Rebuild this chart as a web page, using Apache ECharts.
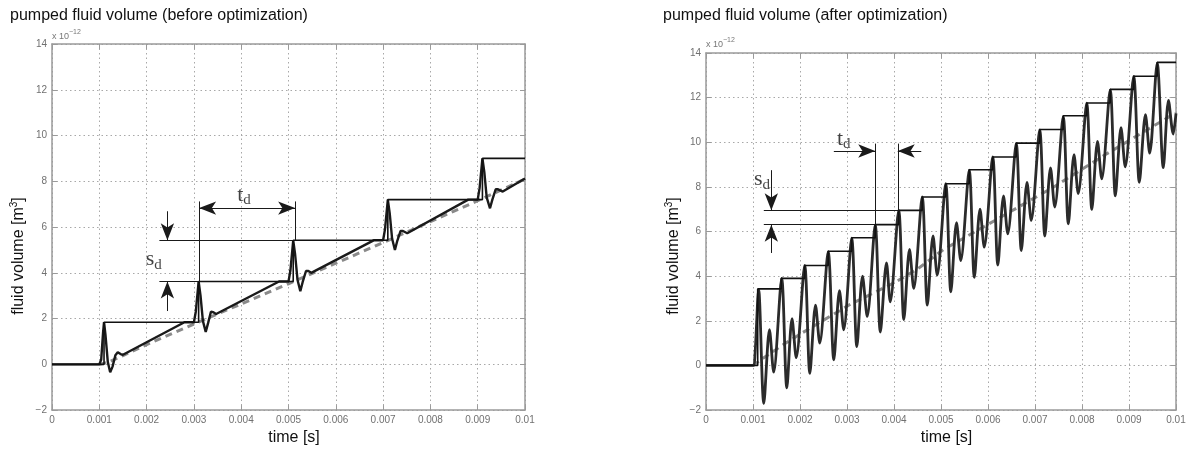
<!DOCTYPE html>
<html><head><meta charset="utf-8">
<script src="https://cdn.jsdelivr.net/npm/echarts@6/dist/echarts.min.js"></script>
<style>html,body{margin:0;padding:0;background:#fff}#c{width:1197px;height:451px}</style>
</head><body><div id="c"></div>
<script>
// ---------- tick labels ----------
const xTickLabels = ['0','0.001','0.002','0.003','0.004','0.005','0.006','0.007','0.008','0.009','0.01'];
const yTickLabels = ['\u22122','0','2','4','6','8','10','12','14'];
const panelTitles = ['pumped fluid volume (before optimization)', 'pumped fluid volume (after optimization)'];

// ---------- BEFORE optimization ----------
const beforeStairs = [[0,0],[0.0011,0],[0.0011,1.84],[0.0031,1.84],[0.0031,3.62],[0.0051,3.62],[0.0051,5.42],
  [0.0071,5.42],[0.0071,7.2],[0.0091,7.2],[0.0091,9.0],[0.01,9.0]];
const beforeResponse = [[0,0],[0.001,0],[0.00104,0.2],[0.00108,1.4],[0.0011,1.84],[0.00113,1.3],[0.00118,0.1],
  [0.00123,-0.35],[0.00128,-0.1],[0.00134,0.4],[0.00139,0.53],[0.00145,0.45],[0.0015,0.42],[0.0028,1.84],[0.003,1.84],
  [0.00304,2.3],[0.0031,3.62],[0.00314,3.0],[0.00319,1.9],[0.00325,1.42],[0.0033,1.8],[0.00336,2.3],[0.00341,2.28],[0.00347,2.2],[0.0048,3.62],[0.005,3.62],
  [0.00504,4.1],[0.0051,5.42],[0.00514,4.8],[0.00519,3.7],[0.00525,3.2],[0.0053,3.6],[0.00537,4.08],[0.00542,4.08],[0.00548,4.0],[0.0068,5.42],[0.007,5.42],
  [0.00704,5.9],[0.0071,7.2],[0.00714,6.6],[0.00719,5.5],[0.00725,5.0],[0.0073,5.4],[0.00737,5.83],[0.00742,5.83],[0.00751,5.73],[0.0088,7.2],[0.009,7.2],
  [0.00904,7.7],[0.0091,9.0],[0.00914,8.4],[0.00919,7.3],[0.00926,6.82],[0.00931,7.2],[0.00938,7.65],[0.00943,7.65],[0.00953,7.55],[0.01,8.12]];
const beforeMean = [[0.001,0],[0.0012,0.1],[0.0015,0.38],[0.002,0.86],[0.003,1.76],[0.004,2.64],[0.005,3.52],
  [0.006,4.42],[0.007,5.32],[0.008,6.24],[0.009,7.15],[0.01,8.1]];
// annotation geometry (data coordinates)
const beforeGuides = [[[0.00311,7.12],[0.00311,3.62]],[[0.00514,7.12],[0.00514,5.42]],
  [[0.00227,5.42],[0.0051,5.42]],[[0.00227,3.62],[0.0031,3.62]]];
const beforeArrows = [[[0.00311,6.83],[0.00514,6.83],true],[[0.00244,6.69],[0.00244,5.42],false],[[0.00244,2.33],[0.00244,3.62],false]];
const beforeLabels = [[0.00406,7.4,'t'],[0.00215,4.6,'s']];

// ---------- AFTER optimization ----------
const afterStairs = [[0,0],[0.0011,0],[0.0011,3.43],[0.0016,3.43],[0.0016,3.9],[0.0021,3.9],[0.0021,4.48],[0.0026,4.48],
  [0.0026,5.12],[0.0031,5.12],[0.0031,5.72],[0.0036,5.72],[0.0036,6.31],[0.0041,6.31],[0.0041,6.95],[0.0046,6.95],
  [0.0046,7.55],[0.0051,7.55],[0.0051,8.14],[0.0056,8.14],[0.0056,8.77],[0.0061,8.77],[0.0061,9.34],[0.0066,9.34],
  [0.0066,9.96],[0.0071,9.96],[0.0071,10.57],[0.0076,10.57],[0.0076,11.19],[0.0081,11.19],[0.0081,11.76],[0.0086,11.76],
  [0.0086,12.37],[0.0091,12.37],[0.0091,12.96],[0.0096,12.96],[0.0096,13.58],[0.01,13.58]];
const afterResponse = [[0,0],[0.001,0],[0.00104,0.4],[0.00112,3.4],[0.00123,-1.7],[0.00135,1.6],[0.00144,-0.3],
  [0.00161,3.9],[0.00172,-1.0],[0.00183,2.1],[0.00192,0.35],[0.0021,4.48],[0.00221,-0.35],[0.00233,2.7],[0.00242,1.0],
  [0.0026,5.1],[0.00272,0.25],[0.00284,3.35],[0.00293,1.6],[0.0031,5.7],[0.00321,0.85],[0.00333,4.0],[0.00343,2.2],
  [0.0036,6.3],[0.00371,1.5],[0.00384,4.6],[0.00392,2.85],[0.0041,6.95],[0.00421,2.06],[0.00433,5.2],[0.00442,3.45],
  [0.0046,7.55],[0.00471,2.7],[0.00483,5.8],[0.00492,4.05],[0.0051,8.15],[0.00521,3.3],[0.00533,6.4],[0.00542,4.7],
  [0.0056,8.75],[0.00571,3.95],[0.00583,7.0],[0.00592,5.3],[0.0061,9.35],[0.00621,4.5],[0.00633,7.6],[0.00642,5.9],
  [0.0066,9.95],[0.00671,5.15],[0.00683,8.2],[0.00692,6.5],[0.0071,10.55],[0.00721,5.8],[0.00733,8.85],[0.00742,7.1],
  [0.0076,11.15],[0.00771,6.35],[0.00783,9.45],[0.00792,7.7],[0.0081,11.75],[0.00821,6.99],[0.00833,10.04],[0.00842,8.36],
  [0.0086,12.35],[0.00871,7.6],[0.00883,10.65],[0.00892,8.9],[0.0091,12.95],[0.00922,8.21],[0.00935,11.24],[0.00944,9.51],
  [0.0096,13.55],[0.00973,8.86],[0.00984,11.88],[0.00994,10.37],[0.01,11.3]];
const afterMean = [[0.001,0],[0.0012,0.3],[0.00165,0.94],[0.002,1.4],[0.00307,2.74],[0.004,3.7],[0.0045,4.32],
  [0.00505,5.19],[0.0059,6.2],[0.0074,8.0],[0.0085,9.45],[0.0099,11.2],[0.01,11.3]];
const afterGuides = [[[0.0036,9.94],[0.0036,6.31]],[[0.00408,9.94],[0.00408,6.95]],
  [[0.00123,6.95],[0.0041,6.95]],[[0.00123,6.31],[0.0036,6.31]]];
const afterArrows = [[[0.00272,9.61],[0.0036,9.61],false],[[0.00458,9.61],[0.00408,9.61],false],
  [[0.00139,8.75],[0.00139,6.95],false],[[0.00139,5.04],[0.00139,6.31],false]];
const afterLabels = [[0.00293,10.15,'t'],[0.00119,8.35,'s']];

// ---------- styling helpers ----------
const grids = [{left:52, top:44, width:473, height:374}, {left:706, top:53, width:470, height:370}];
const frame = '#9a9a9a';
const tickFont = {color:'#707070', fontSize:10, fontFamily:'Liberation Sans, Arial, sans-serif'};

function xAxes(gi) {
  return [{
    type:'value', gridIndex:gi, position:'bottom', min:0, max:0.01, interval:0.001,
    axisLine:{show:true, onZero:false, lineStyle:{color:frame, width:1.5}},
    axisTick:{show:true, inside:true, length:5, lineStyle:{color:frame}},
    axisLabel:Object.assign({margin:5, formatter:v => xTickLabels[Math.round(v*1000)]}, tickFont),
    splitLine:{show:true, lineStyle:{color:'#a8a8a8', width:1, type:[1.5,3]}},
    name:'time [s]', nameLocation:'middle', nameGap: gi===0 ? 14 : 11,
    nameTextStyle:{fontSize:16, color:'#111', fontFamily:'Liberation Sans, Arial, sans-serif', padding:[0,0,0,11]}
  },{
    type:'value', gridIndex:gi, position:'top', min:0, max:0.01, interval:0.001,
    axisLine:{show:true, onZero:false, lineStyle:{color:frame, width:1.5}},
    axisTick:{show:true, inside:true, length:5, lineStyle:{color:frame}},
    axisLabel:{show:false}, splitLine:{show:false}
  }];
}
function yAxes(gi) {
  return [{
    type:'value', gridIndex:gi, position:'left', min:-2, max:14, interval:2,
    axisLine:{show:true, onZero:false, lineStyle:{color:frame, width:1.5}},
    axisTick:{show:true, inside:true, length:5, lineStyle:{color:frame}},
    axisLabel:Object.assign({margin:5, formatter:v => yTickLabels[Math.round((v+2)/2)]}, tickFont),
    splitLine:{show:true, lineStyle:{color:'#a8a8a8', width:1, type:[1.5,3]}},
    name:'{a|x 10}{s|\u221212}', nameLocation:'end', nameGap: gi===0 ? 3 : 4,
    nameTextStyle:{align:'left', verticalAlign:'bottom', rich:{
      a:{fontSize:9, color:'#777', fontFamily:'Liberation Sans, Arial, sans-serif', verticalAlign:'bottom', lineHeight:12},
      s:{fontSize:7, color:'#777', fontFamily:'Liberation Sans, Arial, sans-serif', verticalAlign:'top', lineHeight:12}}}
  },{
    type:'value', gridIndex:gi, position:'right', min:-2, max:14, interval:2,
    axisLine:{show:true, onZero:false, lineStyle:{color:frame, width:1.5}},
    axisTick:{show:true, inside:true, length:5, lineStyle:{color:frame}},
    axisLabel:{show:false}, splitLine:{show:false}
  }];
}

function panelSeries(gi, stairs, response, mean, guides, arrows, labels, respWidth) {
  const xi = gi*2, yi = gi*2;
  const base = {xAxisIndex:xi, yAxisIndex:yi, animation:false, silent:true};
  const mlData = [];
  guides.forEach(g => mlData.push([{coord:g[0], symbol:'none'}, {coord:g[1], symbol:'none'}]));
  arrows.forEach(a => mlData.push([
    {coord:a[0], symbol: a[2] ? 'arrow' : 'none', symbolSize:[10,17]},
    {coord:a[1], symbol:'arrow', symbolSize:[10,17]}]));
  return [
    Object.assign({type:'line', data:mean, showSymbol:false, symbol:'none',
      lineStyle:{color:'#8a8a8a', width:3, type:[7,5]}, z:2}, base),
    Object.assign({type:'line', data:response, showSymbol:false, symbol:'none', smooth: gi===1 ? 0.3 : false,
      lineStyle:{color: gi===1 ? '#2b2b2b' : '#1a1a1a', width:respWidth}, z:3}, base),
    Object.assign({type:'line', data:stairs, showSymbol:false, symbol:'none',
      lineStyle:{color:'#111', width:1.6}, z:4}, base),
    Object.assign({type:'line', data:[[0,0]], showSymbol:false, symbol:'none', lineStyle:{width:0, opacity:0}, z:5,
      markLine:{silent:true, animation:false, symbolSize:[10,17], label:{show:false}, emphasis:{disabled:true},
        lineStyle:{color:'#1a1a1a', width:1, type:'solid'}, itemStyle:{color:'#111'}, data:mlData}}, base),
    Object.assign({type:'scatter', data:labels.map(l => [l[0], l[1], l[2]]), symbolSize:0, z:6,
      label:{show:true, position:'inside', formatter: p => '{a|' + p.data[2] + '}{b|d}',
        rich:{a:{fontSize:22, fontFamily:'Liberation Serif, Times New Roman, serif', color:'#111', lineHeight:26},
              b:{fontSize:15, fontFamily:'Liberation Serif, Times New Roman, serif', color:'#111', verticalAlign:'bottom'}}}}, base)
  ];
}

const chart = echarts.init(document.getElementById('c'), null, {renderer:'canvas'});
const yTitleRich = {
  a:{fontSize:16, fontFamily:'Liberation Sans, Arial, sans-serif', fill:'#111', lineHeight:20},
  s:{fontSize:10, fontFamily:'Liberation Sans, Arial, sans-serif', fill:'#111', verticalAlign:'top', lineHeight:20}
};
chart.setOption({
  animation:false,
  backgroundColor:'#fff',
  grid: grids,
  xAxis: xAxes(0).concat(xAxes(1)),
  yAxis: yAxes(0).concat(yAxes(1)),
  series: panelSeries(0, beforeStairs, beforeResponse, beforeMean, beforeGuides, beforeArrows, beforeLabels, 2.4)
    .concat(panelSeries(1, afterStairs, afterResponse, afterMean, afterGuides, afterArrows, afterLabels, 2.8)),
  graphic: [
    {type:'text', left:10, top:8, style:{text:panelTitles[0], fontSize:16, fontFamily:'Liberation Sans, Arial, sans-serif', fill:'#111'}},
    {type:'text', left:663, top:8, style:{text:panelTitles[1], fontSize:16, fontFamily:'Liberation Sans, Arial, sans-serif', fill:'#111'}},
    {type:'text', x:19, y:256, rotation:Math.PI/2, style:{text:'{a|fluid volume [m}{s|3}{a|]}', rich:yTitleRich, align:'center', verticalAlign:'middle'}},
    {type:'text', x:674, y:256, rotation:Math.PI/2, style:{text:'{a|fluid volume [m}{s|3}{a|]}', rich:yTitleRich, align:'center', verticalAlign:'middle'}}
  ]
});
</script>
</body></html>
